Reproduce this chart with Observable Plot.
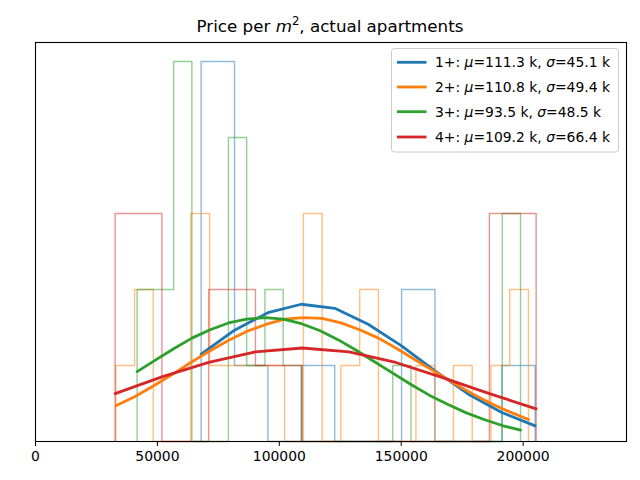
<!DOCTYPE html>
<html><head><meta charset="utf-8">
<script src="https://cdn.jsdelivr.net/npm/d3@7"></script>
<script src="https://cdn.jsdelivr.net/npm/@observablehq/plot@0.6"></script>
<style>body{margin:0;background:#fff} svg{display:block}</style>
</head><body><div id="chart"></div>
<script>
// ---- data ----
const seriesNames = ["1+", "2+", "3+", "4+"];
const colors = ["#1f77b4", "#ff7f0e", "#2ca02c", "#d62728"];
const muK = ["111.3", "110.8", "93.5", "109.2"];
const sigmaK = ["45.1", "49.4", "48.5", "66.4"];
// histogram range (first and last bin edge) per series
const binLo = [67930, 32940, 41680, 32650];
const binHi = [204950, 202200, 198940, 205350];
// histogram counts per bin
const counts1 = [5, 1, 0, 1, 0, 0, 2, 0, 0, 1];
const counts2 = [1, 2, 0, 0, 3, 1, 1, 1, 1, 0, 3, 0, 1, 2, 0, 0, 1, 0, 1, 0, 1, 2];
const counts3 = [2, 2, 5, 0, 0, 4, 1, 2, 1, 0, 0, 0, 0, 0, 1, 0, 0, 0, 0, 0, 3];
const counts4 = [3, 0, 2, 1, 0, 0, 0, 0, 3];
// fitted curve heights at each bin edge
const curve1 = [1.148, 1.464, 1.695, 1.806, 1.753, 1.543, 1.258, 0.929, 0.623, 0.381, 0.206];
const curve2 = [0.47, 0.59, 0.73, 0.88, 1.04, 1.19, 1.33, 1.45, 1.54, 1.61, 1.63, 1.62, 1.56, 1.47, 1.36, 1.22, 1.07, 0.92, 0.77, 0.63, 0.50, 0.39, 0.29];
const curve3 = [0.92, 1.07, 1.22, 1.36, 1.47, 1.56, 1.61, 1.63, 1.61, 1.55, 1.46, 1.34, 1.20, 1.05, 0.90, 0.75, 0.61, 0.49, 0.38, 0.29, 0.21, 0.15];
const curve4 = [0.63, 0.85, 1.04, 1.18, 1.23, 1.18, 1.04, 0.84, 0.63, 0.43];
const xTicks = [0, 50000, 100000, 150000, 200000];
const xMax = 242400;
const yMax = 5.25;

const countsAll = [counts1, counts2, counts3, counts4];
const curvesAll = [curve1, curve2, curve3, curve4];

const histRows = [], curveRows = [];
seriesNames.forEach((s, i) => {
  const c = countsAll[i], n = c.length, w = (binHi[i] - binLo[i]) / n;
  const edge = k => binLo[i] + k * w;
  histRows.push({s, x: edge(0), y: 0});
  c.forEach((v, k) => histRows.push({s, x: edge(k), y: v}));
  histRows.push({s, x: edge(n), y: c[n - 1]});
  histRows.push({s, x: edge(n), y: 0});
  curvesAll[i].forEach((v, k) => curveRows.push({s, x: edge(k), y: v}));
});

const font = "DejaVu Sans";
const plot = Plot.plot({
  width: 640, height: 480,
  marginTop: 42, marginBottom: 39, marginLeft: 35, marginRight: 14,
  style: {fontFamily: font, fontSize: "13.9px", background: "white", color: "black"},
  x: {domain: [0, xMax]},
  y: {domain: [0, yMax], axis: null},
  color: {domain: seriesNames, range: colors},
  marks: [
    Plot.line(histRows, {x: "x", y: "y", z: "s", stroke: "s", curve: "step-after", strokeWidth: 1.4, strokeOpacity: 0.5}),
    Plot.line(curveRows, {x: "x", y: "y", z: "s", stroke: "s", strokeWidth: 2.8, strokeLinejoin: "round"}),
    Plot.frame({stroke: "black", strokeWidth: 1.1}),
    Plot.axisX({ticks: xTicks, tickFormat: d3.format("d"), tickSize: 5, tickPadding: 5, label: null, fontSize: 13.9})
  ]
});
document.getElementById("chart").appendChild(plot);

const svg = d3.select(plot);
// title
const t = svg.append("text").attr("x", 330).attr("y", 32).attr("text-anchor", "middle")
  .attr("font-family", font).attr("font-size", 16.7).attr("fill", "black");
t.append("tspan").text("Price per ");
t.append("tspan").attr("font-style", "italic").text("m");
t.append("tspan").attr("font-size", 11.7).attr("dy", -7).text("2");
t.append("tspan").attr("dy", 7).text(", actual apartments");

// legend
const lg = svg.append("g").attr("text-anchor", "start");
lg.append("rect").attr("x", 391.5).attr("y", 48.5).attr("width", 227).attr("height", 103.5)
  .attr("rx", 3).attr("fill", "white").attr("fill-opacity", 0.8).attr("stroke", "#cccccc").attr("stroke-width", 1);
const rowY = [62.3, 87, 111.7, 137];
seriesNames.forEach((s, i) => {
  lg.append("line").attr("x1", 397).attr("x2", 426.5).attr("y1", rowY[i]).attr("y2", rowY[i])
    .attr("stroke", colors[i]).attr("stroke-width", 2.8);
  const tx = lg.append("text").attr("x", 435).attr("y", rowY[i] + 5).attr("text-anchor", "start")
    .attr("font-family", font).attr("font-size", 13.9).attr("fill", "black");
  tx.append("tspan").text(s + ": ");
  tx.append("tspan").attr("font-style", "italic").text("μ");
  tx.append("tspan").text("=" + muK[i] + " k, ");
  tx.append("tspan").attr("font-style", "italic").text("σ");
  tx.append("tspan").text("=" + sigmaK[i] + " k");
});
</script>
</body></html>
